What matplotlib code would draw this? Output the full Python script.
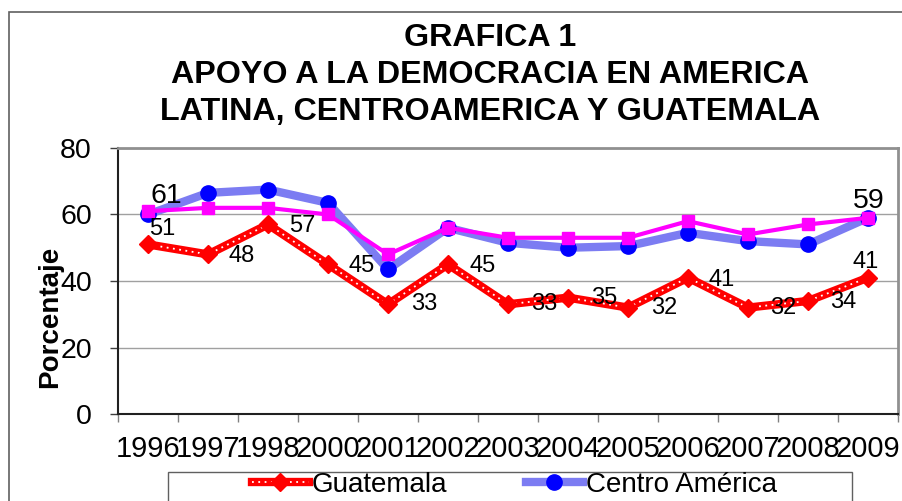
import matplotlib
matplotlib.use("Agg")
import matplotlib.pyplot as plt
from matplotlib.patches import Rectangle
from matplotlib.legend_handler import HandlerTuple

plt.rcParams['font.family'] = ['Liberation Sans', 'DejaVu Sans']

# Datos
anios = ['1996', '1997', '1998', '2000', '2001', '2002', '2003',
         '2004', '2005', '2006', '2007', '2008', '2009']
guatemala = [51, 48, 57, 45, 33, 45, 33, 35, 32, 41, 32, 34, 41]
centro_america = [60, 66.5, 67.5, 63.5, 43.5, 56, 51.5, 50, 50.5, 54.5, 52, 51, 59]
america_latina = [61, 62, 62, 60, 48, 56, 53, 53, 53, 58, 54, 57, 59]

x = list(range(len(anios)))
px = 0.72  # puntos por pixel

fig = plt.figure(figsize=(9.03, 5.01), dpi=100)
ax = fig.add_axes([118 / 903, 87 / 501, 780 / 903, 266 / 501])

# Guatemala: banda roja con puntos blancos
g_band, = ax.plot(x, guatemala, color='#ff0000', lw=6, solid_joinstyle='miter', zorder=3)
g_dots, = ax.plot(x, guatemala, color='white', lw=1.3, ls=(0, (1, 2.5)), zorder=4)
g_mark, = ax.plot(x, guatemala, ls='none', marker='D', ms=9, color='#ff0000', zorder=5)

# Centro America: banda azul clara con circulos
c_band, = ax.plot(x, centro_america, color='#7c7cf2', lw=6, zorder=3)
c_mark, = ax.plot(x, centro_america, ls='none', marker='o', ms=11, color='#0000ff', zorder=5)

# America Latina: linea magenta con cuadrados
ax.plot(x, america_latina, color='#ff00ff', lw=3, marker='s', ms=8, zorder=6)

# Etiquetas de datos
offsets = [(14, 15), (34, -2), (34, -2), (34, -2), (36, 0), (35, -2), (36, 0),
           (36, 0), (36, 0), (34, -2), (35, 0), (35, -1), (-2, 16)]
for i, v in enumerate(guatemala):
    dx, dy = offsets[i]
    ax.annotate(str(v), (x[i], v), xytext=(dx * px, dy * px), textcoords='offset points',
                ha='center', va='center', fontsize=17, zorder=7)
ax.annotate('61', (x[0], america_latina[0]), xytext=(18 * px, 15 * px),
            textcoords='offset points', ha='center', va='center', fontsize=20.5, zorder=7)
ax.annotate('59', (x[-1], america_latina[-1]), xytext=(1 * px, 17 * px),
            textcoords='offset points', ha='center', va='center', fontsize=20.5, zorder=7)

# Ejes
ax.set_xlim(-0.5, len(anios) - 0.5)
ax.set_ylim(0, 80)
ax.set_yticks([0, 20, 40, 60, 80])
ax.set_xticks([i - 0.5 for i in range(len(anios) + 1)])
ax.set_xticklabels([])
ax.set_xticks(x, minor=True)
ax.set_xticklabels(anios, minor=True)
ax.tick_params(axis='x', which='major', length=8 * px, width=1, color='#808080', direction='out')
ax.tick_params(axis='x', which='minor', length=0, pad=15, labelsize=21)
ax.tick_params(axis='y', length=8 * px, width=1, color='#404040', pad=13, labelsize=20.5)
ax.yaxis.grid(True, color='#a0a0a0', lw=1)
ax.set_axisbelow(True)
for s in ['left', 'bottom']:
    ax.spines[s].set_color('#202020')
    ax.spines[s].set_linewidth(1.5)
for s in ['top', 'right']:
    ax.spines[s].set_color('#909090')
    ax.spines[s].set_linewidth(2)

fig.text(50 / 903, 1 - 317 / 501, 'Porcentaje', rotation=90, ha='center', va='center',
         fontsize=20, fontweight='bold')

# Titulo
fig.text(490 / 903, 1 - 75 / 501,
         'GRAFICA 1\nAPOYO A LA DEMOCRACIA EN AMERICA\nLATINA, CENTROAMERICA Y GUATEMALA',
         ha='center', va='center', fontsize=23.2, fontweight='bold', linespacing=1.32)

# Marco de la figura y de la leyenda
fig.patches.append(Rectangle((9 / 903, -0.1), 1.0, 1 - 12 / 501 + 0.1, transform=fig.transFigure,
                             fill=False, edgecolor='#606060', lw=1.2))
fig.patches.append(Rectangle((168 / 903, -0.1), 684 / 903, 0.1 + 29 / 501, transform=fig.transFigure,
                             fill=False, edgecolor='#606060', lw=1))

fig.legend([(g_band, g_dots, g_mark), (c_band, c_mark)], ['Guatemala', 'Centro América'],
           handler_map={tuple: HandlerTuple(ndivide=1)},
           loc='center left', bbox_to_anchor=(238 / 903, 16 / 501), ncol=2, frameon=False,
           fontsize=20, borderpad=0, handlelength=2.05, handletextpad=0.1, columnspacing=2.84)

fig.savefig('out.png', dpi=100)
